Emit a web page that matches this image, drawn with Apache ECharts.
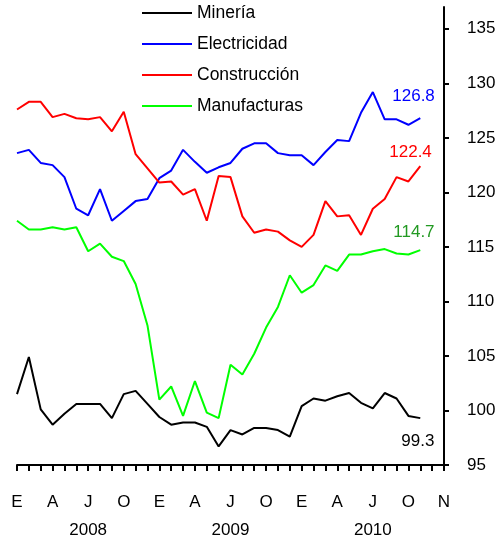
<!DOCTYPE html>
<html>
<head>
<meta charset="utf-8">
<script src="https://cdn.jsdelivr.net/npm/echarts@6/dist/echarts.min.js"></script>
<style>
    html, body { margin: 0; padding: 0; background: #fff; }
    #chart { width: 501px; height: 538px; }
</style>
</head>
<body>
<div id="chart"></div>
<script>
// ene 2008 - nov 2010, un valor por mes
const mineria = [101.5, 104.9, 100.1, 98.7, 99.7, 100.6, 100.6, 100.6, 99.3, 101.5, 101.8, 100.6,
    99.4, 98.7, 98.9, 98.9, 98.5, 96.7, 98.2, 97.8, 98.4, 98.4, 98.2, 97.6,
    100.4, 101.1, 100.9, 101.3, 101.6, 100.7, 100.2, 101.6, 101.1, 99.5, 99.3];
const electricidad = [123.6, 123.9, 122.7, 122.5, 121.4, 118.5, 117.9, 120.3, 117.4, 118.3, 119.2, 119.4,
    121.3, 122.0, 123.9, 122.8, 121.8, 122.3, 122.7, 124.0, 124.5, 124.5, 123.6, 123.4,
    123.4, 122.5, 123.7, 124.8, 124.7, 127.3, 129.2, 126.7, 126.7, 126.2, 126.8];
const construccion = [127.6, 128.3, 128.3, 126.9, 127.2, 126.8, 126.7, 126.9, 125.6, 127.4, 123.5, 122.2,
    120.9, 121.0, 119.8, 120.3, 117.4, 121.5, 121.4, 117.8, 116.3, 116.6, 116.4, 115.6,
    115.0, 116.1, 119.2, 117.8, 117.9, 116.1, 118.5, 119.4, 121.4, 121.0, 122.4];
const manufacturas = [117.4, 116.6, 116.6, 116.8, 116.6, 116.8, 114.6, 115.3, 114.1, 113.7, 111.6, 107.8,
    101.0, 102.2, 99.5, 102.7, 99.8, 99.3, 104.2, 103.3, 105.2, 107.6, 109.5, 112.4,
    110.8, 111.5, 113.3, 112.8, 114.3, 114.3, 114.6, 114.8, 114.4, 114.3, 114.7];

const monthLabels = ['E', 'A', 'J', 'O', 'E', 'A', 'J', 'O', 'E', 'A', 'J', 'O', 'N'];
const years = ['2008', '2009', '2010'];
const yTicks = [95, 100, 105, 110, 115, 120, 125, 130, 135];

// 37 posiciones en el eje, etiqueta cada 3 meses
const categories = [];
for (let i = 0; i <= 36; i++) categories.push(i % 3 === 0 ? monthLabels[i / 3] : '');

const FONT = 'Liberation Sans, Arial, sans-serif';

function line(name, data, color, labelColor, offset) {
    return {
        name: name,
        type: 'line',
        data: data,
        symbol: 'none',
        lineStyle: { color: color, width: 2 },
        itemStyle: { color: color },
        endLabel: {
            show: true,
            offset: offset,
            color: labelColor,
            fontSize: 17,
            fontFamily: FONT,
            formatter: (p) => p.value.toFixed(1)
        },
        emphasis: { disabled: true },
        animation: false
    };
}

const chart = echarts.init(document.getElementById('chart'));
chart.setOption({
    animation: false,
    grid: { left: 17, right: 57, top: 7, bottom: 73, containLabel: false, outerBoundsMode: 'none' },
    legend: {
        orient: 'vertical',
        left: 142,
        top: 4,
        padding: 0,
        icon: 'rect',
        itemWidth: 50,
        itemHeight: 2,
        itemGap: 13,
        textStyle: { fontSize: 17.5, fontFamily: FONT, color: '#000' },
        data: ['Minería', 'Electricidad', 'Construcción', 'Manufacturas']
    },
    xAxis: {
        type: 'category',
        data: categories,
        boundaryGap: false,
        axisLine: { lineStyle: { color: '#000', width: 2 } },
        axisTick: { interval: 0, length: 6, lineStyle: { color: '#000', width: 2 } },
        axisLabel: {
            interval: 0,
            margin: 23,
            color: '#000',
            fontSize: 17,
            fontFamily: FONT,
            lineHeight: 28,
            formatter: (v, i) => {
                if (i % 12 === 6) return v + '\n' + years[(i - 6) / 12];
                return v;
            }
        }
    },
    yAxis: {
        type: 'value',
        position: 'right',
        min: 95,
        max: 137,
        interval: 5,
        splitLine: { show: false },
        axisLine: { show: true, lineStyle: { color: '#000', width: 2 } },
        axisTick: { show: true, length: 5, customValues: yTicks, lineStyle: { color: '#000', width: 2 } },
        axisLabel: { customValues: yTicks, margin: 23, color: '#000', fontSize: 17, fontFamily: FONT }
    },
    series: [
        line('Minería', mineria, '#000000', '#000000', [-27, 23]),
        line('Electricidad', electricidad, '#0000ff', '#0000ff', [-36, -22]),
        line('Construcción', construccion, '#ff0000', '#ff0000', [-39, -14]),
        line('Manufacturas', manufacturas, '#00ff00', '#229922', [-35, -18])
    ]
});
</script>
</body>
</html>
